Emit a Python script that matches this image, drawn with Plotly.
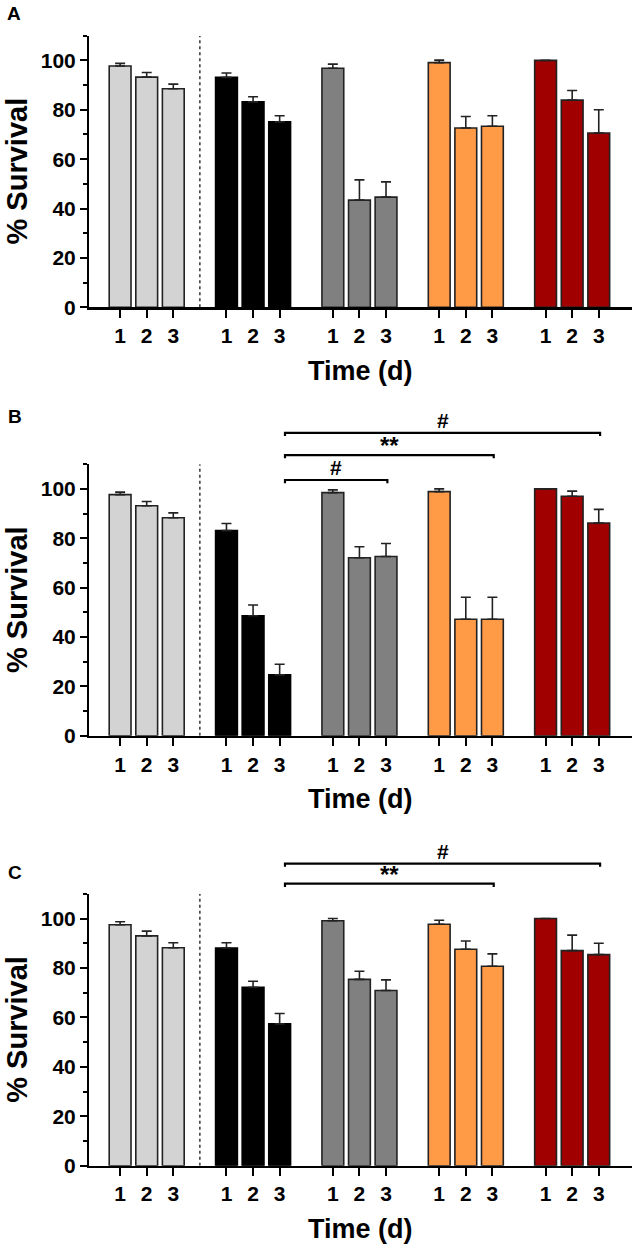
import plotly.graph_objects as go

W, H = 638, 1258
FONT = "Arial, Liberation Sans, sans-serif"

day_labels = ["1", "2", "3"]
group_colors = ["#D3D3D3", "#000000", "#808080", "#FF9A47", "#A00000"]
group_edges = ["#222222", "#000000", "#222222", "#222222", "#222222"]

# Panel A  (mean % survival, SEM) per group x day
a_mean = [[97.7, 93.2, 88.5], [93.1, 83.2, 75.1], [96.8, 43.4, 44.6], [99.1, 72.6, 73.3], [100.0, 83.9, 70.6]]
a_err = [[1.1, 1.9, 1.9], [1.8, 2.1, 2.5], [1.7, 8.2, 6.2], [1.0, 4.7, 4.3], [0.0, 3.9, 9.4]]

# Panel B
b_mean = [[97.7, 93.2, 88.3], [83.1, 48.6, 24.7], [98.5, 72.1, 72.6], [98.9, 47.2, 47.2], [100.0, 97.0, 86.2]]
b_err = [[1.0, 1.7, 2.0], [2.9, 4.4, 4.3], [1.1, 4.5, 5.3], [1.1, 8.9, 8.9], [0.0, 2.1, 5.5]]

# Panel C
c_mean = [[97.5, 93.0, 88.2], [88.1, 72.2, 57.4], [99.1, 75.4, 70.9], [97.7, 87.6, 80.7], [100.0, 87.0, 85.4]]
c_err = [[1.2, 1.9, 2.0], [2.1, 2.4, 4.2], [0.9, 3.3, 4.3], [1.6, 3.3, 5.0], [0.0, 6.3, 4.6]]

# significance brackets: (from group, to group, label, height in % units); day 3 compared
b_brackets = [(1, 2, "#", 103.6), (1, 3, "**", 113.7), (1, 4, "#", 122.7)]
c_brackets = [(1, 3, "**", 114.1), (1, 4, "#", 122.2)]

panel_labels = ["A", "B", "C"]
panels = [(a_mean, a_err, []), (b_mean, b_err, b_brackets), (c_mean, c_err, c_brackets)]

# geometry (pixels)
plot_left, plot_right = 89, 632
top_px = [36, 468.3, 901.7]
bot_px = [310, 742.3, 1176]
label_px = [(14, 14), (15, 420), (15, 880)]
Y_MAX = 110
BR_MAX = 135
X_RANGE = [-1.17, 19.25]
GROUP_STEP = 4


def pos(g, d):
    return g * GROUP_STEP + d


fig = go.Figure()
layout = dict(
    width=W, height=H, margin=dict(l=0, r=0, t=0, b=0),
    paper_bgcolor="white", plot_bgcolor="rgba(0,0,0,0)",
    showlegend=False, font=dict(family=FONT, color="black"),
    bargap=0, annotations=[], shapes=[], hovermode=False,
)

xdom = [plot_left / W, plot_right / W]
tickpos = [pos(g, d) for g in range(5) for d in range(3)]
ticktext = day_labels * 5
overlay_idx = 4

for p, (means, errs, brackets) in enumerate(panels):
    n = p + 1
    xa = "x" if n == 1 else f"x{n}"
    ya = "y" if n == 1 else f"y{n}"
    y0f = 1 - bot_px[p] / H
    y1f = 1 - top_px[p] / H
    for g in range(5):
        fig.add_trace(go.Bar(
            x=[pos(g, d) for d in range(3)], y=means[g],
            width=0.82, xaxis=xa, yaxis=ya,
            marker=dict(color=group_colors[g], line=dict(color=group_edges[g], width=1.6)),
            error_y=dict(type="data", symmetric=False, array=errs[g], arrayminus=[0, 0, 0],
                         color="#222222", thickness=1.6, width=5),
        ))
    layout[f"xaxis{'' if n == 1 else n}"] = dict(
        domain=xdom, anchor=ya, range=X_RANGE, showgrid=False, zeroline=False,
        showline=True, linecolor="black", linewidth=2.5,
        ticks="outside", ticklen=8, tickwidth=2, tickcolor="black",
        tickvals=tickpos, ticktext=ticktext,
        tickfont=dict(family=FONT, size=21, color="black", weight="bold"),
    )
    layout[f"yaxis{'' if n == 1 else n}"] = dict(
        domain=[y0f, y1f], anchor=xa, range=[0, Y_MAX], showgrid=False, zeroline=False,
        showline=True, linecolor="black", linewidth=2,
        ticks="outside", ticklen=7, tickwidth=2, tickcolor="black",
        tickvals=[0, 20, 40, 60, 80, 100],
        minor=dict(tickvals=[10, 30, 50, 70, 90, 110], ticklen=4, tickwidth=2, tickcolor="black", ticks="outside"),
        tickfont=dict(family=FONT, size=21, color="black", weight="bold"),
    )
    # dashed separator between control group and the rest
    layout["shapes"].append(dict(
        type="line", xref=xa, yref=ya, x0=(pos(0, 2) + pos(1, 0)) / 2, x1=(pos(0, 2) + pos(1, 0)) / 2,
        y0=0, y1=Y_MAX, line=dict(color="black", width=1.2, dash="3px,3px"),
    ))
    # titles
    cy = 1 - (top_px[p] + bot_px[p]) / 2 / H
    layout["annotations"].append(dict(
        text="% Survival", textangle=-90, xref="paper", yref="paper", x=17 / W, y=cy,
        xanchor="center", yanchor="middle", showarrow=False,
        font=dict(family=FONT, size=29, color="black", weight="bold"),
    ))
    layout["annotations"].append(dict(
        text="Time (d)", xref="paper", yref="paper", x=(plot_left + plot_right) / 2 / W,
        y=1 - (bot_px[p] + 64) / H, xanchor="center", yanchor="middle", showarrow=False,
        font=dict(family=FONT, size=27, color="black", weight="bold"),
    ))
    lx, ly = label_px[p]
    layout["annotations"].append(dict(
        text=panel_labels[p], xref="paper", yref="paper", x=lx / W, y=1 - ly / H,
        xanchor="center", yanchor="middle", showarrow=False,
        font=dict(family=FONT, size=19, color="black", weight="bold"),
    ))
    # significance brackets on an overlay subplot sharing the x scale
    if brackets:
        k = overlay_idx
        overlay_idx += 1
        oxa, oya = f"x{k}", f"y{k}"
        top_f = y0f + (y1f - y0f) * BR_MAX / Y_MAX
        layout[f"xaxis{k}"] = dict(domain=xdom, anchor=oya, range=X_RANGE, visible=False, matches=xa)
        layout[f"yaxis{k}"] = dict(domain=[y0f, top_f], anchor=oxa, range=[0, BR_MAX], visible=False)
        for (ga, gb, lab, h) in brackets:
            xl = pos(ga, 2) + 0.2
            xr = pos(gb, 2) + 0.05
            fig.add_trace(go.Scatter(
                x=[xl, xl, xr, xr], y=[h - 1.3, h, h, h - 1.3], mode="lines",
                xaxis=oxa, yaxis=oya, line=dict(color="black", width=2.2), hoverinfo="skip",
            ))
            layout["annotations"].append(dict(
                text=lab, xref=oxa, yref=oya, x=(xl + xr) / 2, y=h, xanchor="center", yanchor="bottom",
                yshift=-6 if lab == "**" else -1, showarrow=False,
                font=dict(family=FONT, size=24 if lab == "**" else 21, color="black", weight="bold"),
            ))

fig.update_layout(**layout)
fig.write_html("out.html", config={"displayModeBar": False, "staticPlot": True},
               post_script="document.body.style.margin='0';document.body.style.overflow='hidden';")
